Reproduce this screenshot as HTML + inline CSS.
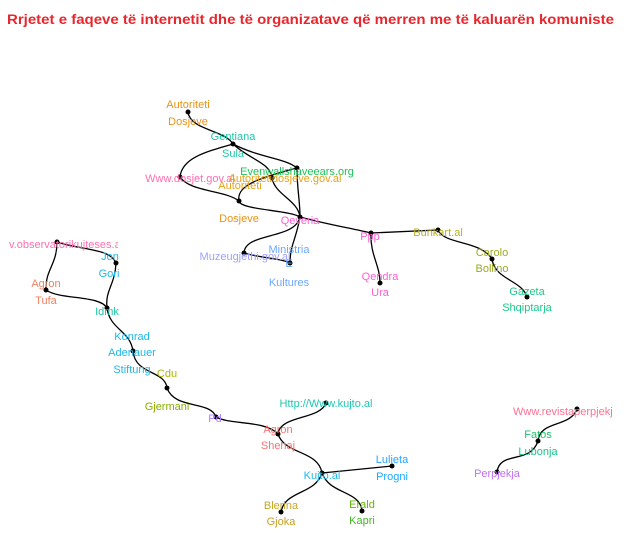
<!DOCTYPE html>
<html><head><meta charset="utf-8"><style>
html,body{margin:0;padding:0;background:#fff;}
svg{display:block;}
text{font-family:"Liberation Sans",sans-serif;font-size:11px;text-anchor:middle;}
</style></head><body>
<svg width="628" height="547" viewBox="0 0 628 547" xmlns="http://www.w3.org/2000/svg">
<defs>
<clipPath id="cr"><rect x="0" y="0" width="613" height="547"/></clipPath>
<clipPath id="cl"><rect x="0" y="0" width="118" height="547"/></clipPath>
</defs>
<text x="7" y="24" style="text-anchor:start;font-size:13.5px;font-weight:bold;fill:#e8262c" textLength="607" lengthAdjust="spacingAndGlyphs">Rrjetet e faqeve të internetit dhe të organizatave që merren me të kaluarën komuniste</text>
<g fill="none" stroke="#000" stroke-width="1.3">
<path d="M188,112 C190,130 225,130 233,144"/>
<path d="M233,144 C205,152 182,158 180,177"/>
<path d="M233,144 C260,158 285,158 297,168"/>
<path d="M233,144 C250,160 270,162 272,178"/>
<path d="M272,178 C275,195 298,200 300,217"/>
<path d="M297,168 C297,190 300,200 300,217"/>
<path d="M297,168 C260,178 236,185 239,201"/>
<path d="M180,177 C190,192 225,190 239,201"/>
<path d="M239,201 C240,210 290,210 300,217"/>
<path d="M300,217 C295,240 245,232 244,253"/>
<path d="M300,217 C296,240 290,245 290,263"/>
<path d="M244,253 C260,258 280,258 290,263"/>
<path d="M300,217 C330,225 350,228 371,233"/>
<path d="M371,233 C370,255 380,265 380,283"/>
<path d="M371,233 L438,230"/>
<path d="M438,230 C445,245 480,240 492,259"/>
<path d="M492,259 C495,280 522,280 527,297"/>
<path d="M57,242 C80,250 110,248 116,263"/>
<path d="M57,242 C57,265 45,270 46,290"/>
<path d="M116,263 C115,285 105,290 107,308"/>
<path d="M46,290 C60,300 100,295 107,308"/>
<path d="M107,308 C110,330 130,330 133,351"/>
<path d="M133,351 C135,375 165,370 167,388"/>
<path d="M167,388 C175,410 210,400 216,417"/>
<path d="M216,417 C230,425 265,420 278,434"/>
<path d="M326,403 C320,420 280,415 278,434"/>
<path d="M278,434 C285,455 318,450 322,473"/>
<path d="M322,473 L392,466"/>
<path d="M322,473 C315,495 285,490 281,512"/>
<path d="M322,473 C330,495 360,490 362,511"/>
<path d="M577,409 C570,428 540,420 538,441"/>
<path d="M538,441 C530,465 500,450 497,472"/>
</g>
<g fill="#000">
<circle cx="188" cy="112" r="2.5"/><circle cx="233" cy="144" r="2.5"/><circle cx="180" cy="177" r="2.5"/>
<circle cx="297" cy="168" r="2.5"/><circle cx="272" cy="178" r="2.5"/><circle cx="239" cy="201" r="2.5"/>
<circle cx="300" cy="217" r="2.5"/><circle cx="244" cy="253" r="2.5"/><circle cx="290" cy="263" r="2.5"/>
<circle cx="371" cy="233" r="2.5"/><circle cx="380" cy="283" r="2.5"/><circle cx="438" cy="230" r="2.5"/>
<circle cx="492" cy="259" r="2.5"/><circle cx="527" cy="297" r="2.5"/>
<circle cx="57" cy="242" r="2.5"/><circle cx="116" cy="263" r="2.5"/><circle cx="46" cy="290" r="2.5"/>
<circle cx="107" cy="308" r="2.5"/><circle cx="133" cy="351" r="2.5"/><circle cx="167" cy="388" r="2.5"/>
<circle cx="216" cy="417" r="2.5"/><circle cx="326" cy="403" r="2.5"/><circle cx="278" cy="434" r="2.5"/>
<circle cx="322" cy="473" r="2.5"/><circle cx="392" cy="466" r="2.5"/><circle cx="281" cy="512" r="2.5"/>
<circle cx="362" cy="511" r="2.5"/><circle cx="577" cy="409" r="2.5"/><circle cx="538" cy="441" r="2.5"/>
<circle cx="497" cy="472" r="2.5"/>
</g>
<g>
<text x="188" y="108" fill="#e8931a">Autoriteti</text>
<text x="188" y="125" fill="#e8931a">Dosjeve</text>
<text x="233" y="140" fill="#1fc7a8">Gentiana</text>
<text x="233" y="157" fill="#1fc7a8">Sula</text>
<text x="190" y="182" fill="#ff6fb0">Www.dosjet.gov.al</text>
<text x="297" y="175" fill="#19c45a">Evenwallshaveears.org</text>
<text x="285" y="182" fill="#e8a21a">Autoritetidosjeve.gov.al</text>
<text x="240" y="189" fill="#e8a21a">Autoriteti</text>
<text x="239" y="222" fill="#e8931a">Dosjeve</text>
<text x="300" y="224" fill="#ff5fd0">Qeveria</text>
<text x="245" y="260" fill="#a0a0ff">Muzeugjethi.gov.al</text>
<text x="289" y="253" fill="#6aa8ff">Ministria</text>
<text x="289" y="267" fill="#6aa8ff">E</text>
<text x="289" y="286" fill="#6aa8ff">Kultures</text>
<text x="370" y="240" fill="#ff5fd0">Ppp</text>
<text x="380" y="280" fill="#ff5fd0">Qendra</text>
<text x="380" y="296" fill="#ff5fd0">Ura</text>
<text x="438" y="236" fill="#b8b020">Bunkart.al</text>
<text x="492" y="256" fill="#9aaa20">Carolo</text>
<text x="492" y="272" fill="#9aaa20">Bollino</text>
<text x="527" y="295" fill="#1fc78a">Gazeta</text>
<text x="527" y="311" fill="#1fc78a">Shqiptarja</text>
<g clip-path="url(#cl)"><text x="9" y="248" style="text-anchor:start" fill="#ff6fb0">v.observatorikujteses.al</text></g>
<text x="110" y="260" fill="#1fb8e8">Jon</text>
<text x="109" y="277" fill="#1fb8e8">Gori</text>
<text x="46" y="287" fill="#f08060">Agron</text>
<text x="46" y="304" fill="#f08060">Tufa</text>
<text x="107" y="315" fill="#1fc7a8">Idmk</text>
<text x="132" y="340" fill="#1fb8e8">Konrad</text>
<text x="132" y="356" fill="#1fb8e8">Adenauer</text>
<text x="132" y="373" fill="#1fb8e8">Stiftung</text>
<text x="167" y="377" fill="#a8b800">Cdu</text>
<text x="167" y="410" fill="#88b000">Gjermani</text>
<text x="215" y="422" fill="#b080ff">Pd</text>
<text x="326" y="407" fill="#1fc7b0">Http://Www.kujto.al</text>
<text x="278" y="433" fill="#ff7070">Agron</text>
<text x="278" y="449" fill="#ff7070">Shehaj</text>
<text x="322" y="479" fill="#1fb8e8">Kujto.al</text>
<text x="392" y="463" fill="#1fa8ff">Lulieta</text>
<text x="392" y="480" fill="#1fa8ff">Progni</text>
<text x="281" y="509" fill="#c8a820">Blerina</text>
<text x="281" y="525" fill="#c8a020">Gjoka</text>
<text x="362" y="508" fill="#60b800">Erald</text>
<text x="362" y="524" fill="#40b820">Kapri</text>
<g clip-path="url(#cr)"><text x="513" y="415" style="text-anchor:start" fill="#ff7090">Www.revistaperpjekja</text></g>
<text x="538" y="438" fill="#19c46a">Fatos</text>
<text x="538" y="455" fill="#19c48a">Lubonja</text>
<text x="497" y="477" fill="#c070f0">Perpjekja</text>
</g>
</svg>
</body></html>
